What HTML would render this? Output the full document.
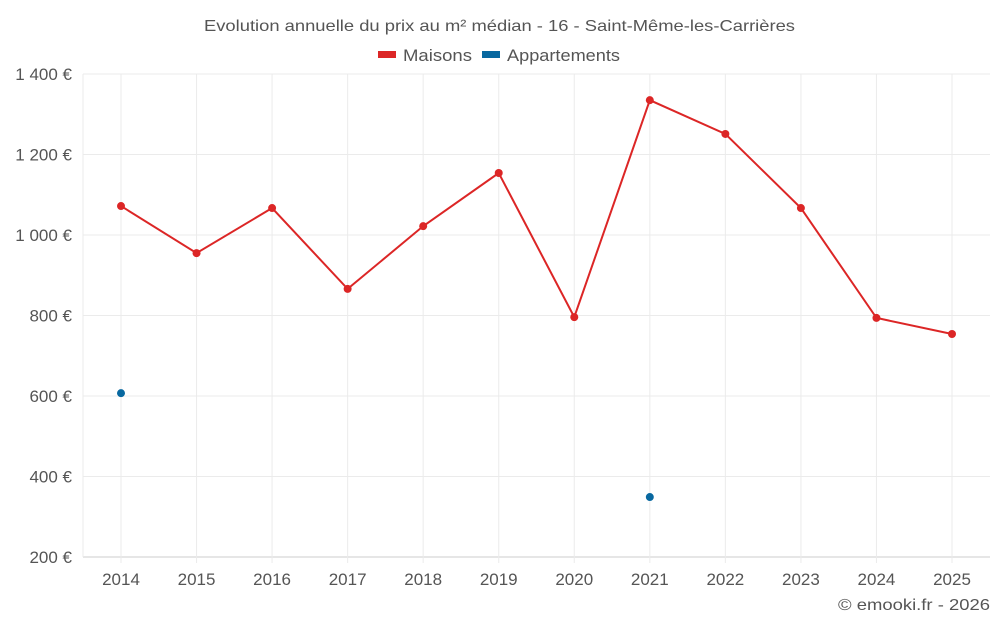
<!DOCTYPE html>
<html><head><meta charset="utf-8">
<style>
html,body{margin:0;padding:0;background:#fff;}
body{width:1000px;height:625px;overflow:hidden;font-family:"Liberation Sans",sans-serif;}
svg text{font-family:"Liberation Sans",sans-serif;fill:#555;}
</style></head>
<body>
<svg id="chart" width="1000" height="625" xmlns="http://www.w3.org/2000/svg">
<text x="204" y="31" font-size="16" textLength="591" lengthAdjust="spacingAndGlyphs">Evolution annuelle du prix au m² médian - 16 - Saint-Même-les-Carrières</text>
<g><rect x="378" y="51" width="18" height="7" fill="#dc2626"/><text x="403" y="61" font-size="17" textLength="69" lengthAdjust="spacingAndGlyphs">Maisons</text></g>
<g><rect x="482" y="51" width="18" height="7" fill="#0868a0"/><text x="507" y="61" font-size="17" textLength="113" lengthAdjust="spacingAndGlyphs">Appartements</text></g>
<g id="grid"></g><g id="axes"></g><g id="marks"></g>
<text x="838" y="610" font-size="16" textLength="152" lengthAdjust="spacingAndGlyphs">© emooki.fr - 2026</text>
</svg>
<script>
const years=[2014,2015,2016,2017,2018,2019,2020,2021,2022,2023,2024,2025];
const maisons=[1072,955,1067,866,1022,1154,796,1335,1251,1067,794,754];
const appartements=[607,null,null,null,null,null,null,349,null,null,null,null];
const yTicks=[200,400,600,800,1000,1200,1400];
const yLabels=["200 €","400 €","600 €","800 €","1 000 €","1 200 €","1 400 €"];
const NS="http://www.w3.org/2000/svg";
const L=83,R=990,T=74,B=557;
const x=i=>121+i*(952-121)/11;
const y=v=>B-(v-200)*(B-T)/1200;
function mk(tag,attrs,parent){const e=document.createElementNS(NS,tag);for(const k in attrs)e.setAttribute(k,attrs[k]);document.getElementById(parent).appendChild(e);return e;}
yTicks.forEach((t,i)=>{
 const g=mk('line',{x1:L,x2:R,y1:y(t),y2:y(t),stroke:i==0?'#ccc':'#ebebeb'},'grid');
 
 
 const tx=mk('text',{x:72,y:y(t)+6,'text-anchor':'end','font-size':17},'axes');tx.textContent=yLabels[i];
 
 
});
years.forEach((yr,i)=>{
 const g=mk('line',{x1:x(i),x2:x(i),y1:T,y2:B+6,stroke:'#ebebeb'},'grid');
 
 
 const tx=mk('text',{x:x(i),y:585,'text-anchor':'middle','font-size':17},'axes');tx.textContent=yr;
 
 
});
const vl=mk('line',{x1:L,x2:L,y1:T,y2:B,stroke:'#ebebeb'},'grid');


const pts=maisons.map((v,i)=>x(i)+','+y(v)).join(' ');
const pl=mk('polyline',{points:pts,fill:'none',stroke:'#dc2626','stroke-width':2},'marks');


maisons.forEach((v,i)=>{
 const c=mk('circle',{cx:x(i),cy:y(v),r:4,fill:'#dc2626'},'marks');
 
 
});
appartements.forEach((v,i)=>{
 if(v==null)return;
 const c=mk('circle',{cx:x(i),cy:y(v),r:4,fill:'#0868a0'},'marks');
 
 
});
</script>
</body></html>
